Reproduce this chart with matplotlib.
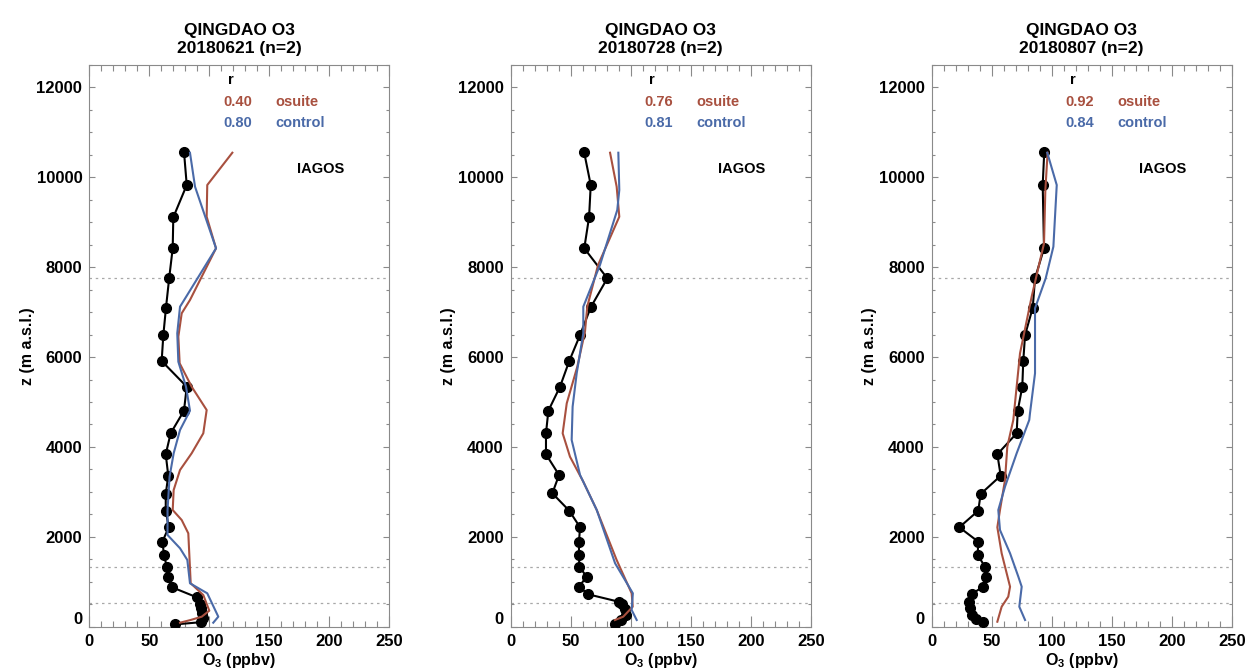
import matplotlib
matplotlib.use('Agg')
import matplotlib.pyplot as plt
from matplotlib.ticker import MultipleLocator

plt.rcParams['font.family'] = ['Liberation Sans', 'DejaVu Sans']
plt.rcParams['font.weight'] = 'bold'
plt.rcParams['axes.labelweight'] = 'bold'
plt.rcParams['mathtext.fontset'] = 'custom'
plt.rcParams['mathtext.rm'] = 'Liberation Sans:bold'
plt.rcParams['mathtext.bf'] = 'Liberation Sans:bold'
plt.rcParams['mathtext.default'] = 'bf'

# ---------------- data ----------------
station = 'QINGDAO O3'
dates = ['20180621', '20180728', '20180807']
n_profiles = [2, 2, 2]
r_osuite = [0.40, 0.76, 0.92]
r_control = [0.80, 0.81, 0.84]
layer_bounds = [535, 1320, 7750]   # dotted reference heights (m)

# panel 1 (20180621)
iagos1_z = [50, 100, 190, 300, 415, 505, 655, 880, 1100, 1335, 1596, 1892, 2212, 2581,
            2953, 3360, 3837, 4304, 4807, 5341, 5913, 6491, 7099, 7767, 8421, 9111,
            9829, 10571]
iagos1_o3 = [71, 93, 95, 94, 93, 92, 89.5, 68.7, 65.3, 64.5, 62.3, 60.9, 66.2, 63.7,
             63.7, 65.8, 63.7, 67.8, 78.9, 81.2, 60.3, 61.7, 63.9, 66.6, 69.5, 70.0,
             81.2, 78.9]
osuite1_z = [89, 149, 223, 356, 705, 966, 1633, 2078, 2374, 2597, 3042, 3487, 3859,
             4304, 4822, 5341, 5862, 6454, 6974, 7270, 8421, 9124, 9829, 10548]
osuite1_o3 = [75.6, 84.4, 93.7, 100, 95, 84.5, 83.3, 82.5, 77, 69.5, 70.3, 75.6, 85.3,
              95.0, 97.8, 85.3, 75.3, 74.2, 77, 83.9, 105.6, 97.8, 98.3, 119.2]
control1_z = [89, 223, 743, 966, 1484, 1745, 2041, 2597, 3338, 3859, 4377, 4807, 5341,
              5897, 6529, 7121, 8421, 9792, 10548]
control1_o3 = [103.3, 107.5, 98.3, 83.9, 81.7, 75.6, 65.2, 65.2, 66.9, 70.3, 75.6, 83.9,
               80.6, 74.2, 73.3, 75.6, 105.6, 88.1, 83.9]

# panel 2 (20180728)
iagos2_z = [60, 150, 260, 400, 500, 556, 720, 890, 1113, 1335, 1596, 1892, 2212, 2581,
            2969, 3376, 3837, 4304, 4807, 5341, 5913, 6491, 7108, 7753, 8421, 9111,
            9829, 10571]
iagos2_o3 = [87, 92, 96, 95, 93, 90, 64.7, 56.9, 63.3, 57.2, 56.9, 56.9, 57.8, 48.8,
             34.7, 40.3, 29.4, 29.4, 31.4, 41.1, 48.8, 57.8, 66.7, 80.5, 61.3, 65.3,
             66.7, 61.1]
osuite2_z = [149, 223, 445, 743, 1484, 2597, 3227, 3783, 4304, 4971, 5786, 6565, 7121,
             8049, 9124, 9792, 10548]
osuite2_o3 = [86.9, 93.8, 101.7, 100.8, 88.3, 71.7, 60.5, 49.4, 43.3, 46.7, 55.5, 61.9,
              63.8, 72.8, 90.5, 88.3, 82.8]
control2_z = [149, 372, 743, 1411, 2597, 3376, 4155, 4896, 5639, 6529, 7121, 8049, 9273,
              9718, 10548]
control2_o3 = [105, 100.8, 101.8, 87, 71.7, 57.8, 50.8, 51.6, 55.0, 60.5, 60.5, 74.4,
               88.8, 90.5, 89.7]

# panel 3 (20180807)
iagos3_z = [111, 165, 260, 409, 556, 728, 890, 1099, 1335, 1596, 1892, 2212, 2581, 2953,
            3360, 3837, 4304, 4807, 5341, 5913, 6491, 7099, 7753, 8421, 9829, 10571]
iagos3_o3 = [43.0, 36.9, 33.3, 31.9, 31.3, 33.3, 43.0, 45.3, 44.4, 38.3, 38.8, 23.0,
             38.8, 40.8, 57.5, 54.7, 70.8, 71.7, 75.5, 76.3, 77.8, 84.2, 86.1, 93.6,
             92.5, 93.8]
osuite3_z = [111, 445, 668, 890, 1633, 2212, 2597, 3264, 4006, 4600, 6084, 7344, 8532,
             9718, 10548]
osuite3_o3 = [54.7, 58.3, 63.8, 65.3, 58.3, 54.7, 56.9, 61.1, 63.0, 68.0, 73.6, 83.3,
              93.6, 94.7, 96.6]
control3_z = [149, 445, 890, 1113, 1633, 2152, 2597, 3116, 3859, 4600, 4749, 5639, 7085,
              7753, 8457, 9829, 10548]
control3_o3 = [77.8, 73.0, 75.0, 72.2, 65.3, 56.9, 55.5, 61.1, 70.8, 81.3, 81.9, 86.1,
               86.1, 95.0, 101.4, 104.2, 96.3]

x_ticks = [0, 50, 100, 150, 200, 250]
y_ticks = [0, 2000, 4000, 6000, 8000, 10000, 12000]

panels = [
    (iagos1_z, iagos1_o3, osuite1_z, osuite1_o3, control1_z, control1_o3),
    (iagos2_z, iagos2_o3, osuite2_z, osuite2_o3, control2_z, control2_o3),
    (iagos3_z, iagos3_o3, osuite3_z, osuite3_o3, control3_z, control3_o3),
]

# ---------------- styling ----------------
c_osuite = '#a8503f'
c_control = '#4a6aa8'
c_axis = '#8a8a8a'

fig = plt.figure(figsize=(12.48, 6.71), dpi=100)
lefts = [89.3 / 1248, 510.7 / 1248, 931.7 / 1248]
width = 300 / 1248
bottom = (671 - 626.7) / 671
height = (626.7 - 65) / 671

for i, (iz, io, oz, oo, cz, co) in enumerate(panels):
    ax = fig.add_axes([lefts[i], bottom, width, height])
    for zb in layer_bounds:
        ax.axhline(zb, color='#a8a8a8', ls=(0, (2, 3)), lw=0.9, zorder=1)
    ax.plot(io, iz, color='black', lw=1.5, marker='o', ms=7, zorder=3)
    ax.plot(oo, oz, color=c_osuite, lw=1.5, zorder=4)
    ax.plot(co, cz, color=c_control, lw=1.5, zorder=5)

    ax.set_xlim(0, 250)
    ax.set_ylim(0, 12500)
    ax.set_xticks(x_ticks)
    ax.set_yticks(y_ticks)
    ax.xaxis.set_minor_locator(MultipleLocator(10))
    ax.yaxis.set_minor_locator(MultipleLocator(500))
    ax.tick_params(which='both', direction='in', top=True, right=True,
                   color=c_axis, labelcolor='black', labelsize=12)
    ax.tick_params(axis='x', which='major', length=8, width=0.8, pad=5)
    ax.tick_params(axis='x', which='minor', length=4, width=0.8)
    ax.tick_params(axis='y', which='major', length=4.5, width=0.8, pad=5)
    ax.tick_params(axis='y', which='minor', length=2.5, width=0.8)
    for sp in ax.spines.values():
        sp.set_color(c_axis)
        sp.set_linewidth(0.8)
    ylabs = ax.get_yticklabels()
    ylabs[0].set_verticalalignment('bottom')

    ax.set_title(f'{station}\n{dates[i]} (n={n_profiles[i]})', fontsize=12.5,
                 fontweight='bold', pad=9, linespacing=1.25)
    ax.set_xlabel(r'O$_3$ (ppbv)', fontsize=11.5, fontweight='bold', labelpad=2)
    ax.set_ylabel('z (m a.s.l.)', fontsize=11.5, fontweight='bold', labelpad=1)

    tr = ax.transAxes
    ax.text(0.471, 0.973, 'r', transform=tr, ha='center', va='center', fontsize=10.5)
    ax.text(0.447, 0.935, f'{r_osuite[i]:.2f}', transform=tr, ha='left', va='center',
            fontsize=10.5, color=c_osuite)
    ax.text(0.619, 0.935, 'osuite', transform=tr, ha='left', va='center',
            fontsize=10.5, color=c_osuite)
    ax.text(0.447, 0.896, f'{r_control[i]:.2f}', transform=tr, ha='left', va='center',
            fontsize=10.5, color=c_control)
    ax.text(0.619, 0.896, 'control', transform=tr, ha='left', va='center',
            fontsize=10.5, color=c_control)
    ax.text(0.692, 0.815, 'IAGOS', transform=tr, ha='left', va='center', fontsize=10.5)

fig.savefig('out.png', dpi=100)
